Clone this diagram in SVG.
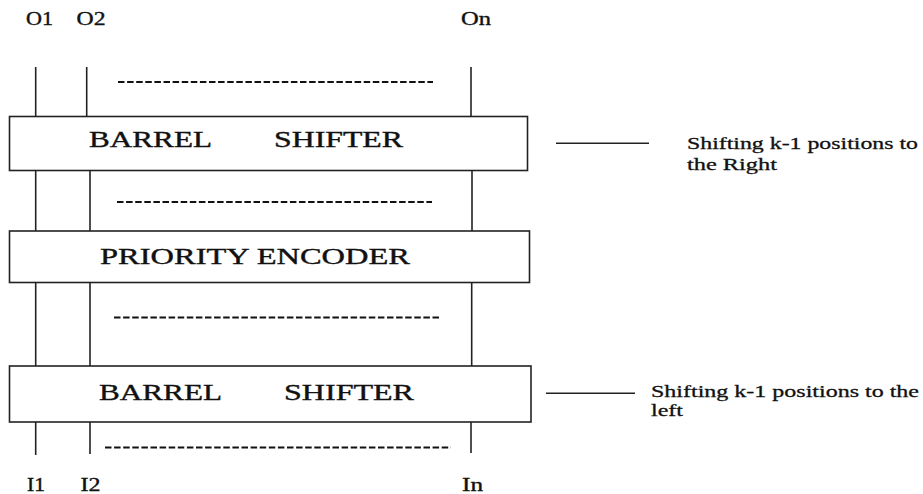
<svg xmlns="http://www.w3.org/2000/svg" width="923" height="494" viewBox="0 0 923 494">
<style>
.box{fill:#fff;stroke:#222;stroke-width:1.6}
.wire{stroke:#222;stroke-width:1.6;fill:none}
.dash{stroke:#111;stroke-width:2;stroke-dasharray:6.5 2.6;fill:none}
.lbl{font-family:"Liberation Serif","Times New Roman",serif;font-size:18px;fill:#111;stroke:#111;stroke-width:0.35}
.big{font-family:"Liberation Serif","Times New Roman",serif;font-size:23.5px;fill:#111;stroke:#111;stroke-width:0.4}
.note{font-family:"Liberation Serif","Times New Roman",serif;font-size:17.5px;fill:#111;stroke:#111;stroke-width:0.3}
</style>
<rect width="923" height="494" fill="#fff"/>
<g id="connectors">
<line class="wire" x1="35.7" y1="67" x2="35.7" y2="117"/>
<line class="wire" x1="86.7" y1="67" x2="86.7" y2="117"/>
<line class="wire" x1="471" y1="67" x2="471" y2="117"/>
<line class="wire" x1="35.7" y1="170" x2="35.7" y2="231"/>
<line class="wire" x1="90" y1="170" x2="90" y2="231"/>
<line class="wire" x1="472" y1="170" x2="472" y2="231"/>
<line class="wire" x1="35.7" y1="282" x2="35.7" y2="366"/>
<line class="wire" x1="90" y1="282" x2="90" y2="366"/>
<line class="wire" x1="471.7" y1="282" x2="471.7" y2="366"/>
<line class="wire" x1="35.7" y1="422" x2="35.7" y2="455"/>
<line class="wire" x1="90" y1="422" x2="90" y2="454"/>
<line class="wire" x1="471" y1="422" x2="471" y2="453"/>
<line class="dash" x1="118" y1="82" x2="433" y2="82"/>
<line class="dash" x1="117" y1="202" x2="432" y2="202"/>
<line class="dash" x1="114" y1="317.5" x2="439" y2="317.5"/>
<line class="dash" x1="105" y1="447.5" x2="451" y2="447.5"/>
<line class="wire" x1="556" y1="143.3" x2="649" y2="143.3"/>
<line class="wire" x1="546" y1="393.3" x2="635" y2="393.3"/>
</g>
<g id="outputs">
<text class="lbl" x="26" y="25" textLength="27" lengthAdjust="spacingAndGlyphs">O1</text>
<text class="lbl" x="76.5" y="25" textLength="29" lengthAdjust="spacingAndGlyphs">O2</text>
<text class="lbl" x="461" y="25" textLength="30" lengthAdjust="spacingAndGlyphs">On</text>
</g>
<g id="barrel-shifter-right">
<rect class="box" x="9.5" y="116.5" width="518" height="54"/>
<text class="big" x="89" y="147" textLength="123" lengthAdjust="spacingAndGlyphs">BARREL</text>
<text class="big" x="274" y="147" textLength="129" lengthAdjust="spacingAndGlyphs">SHIFTER</text>
</g>
<g id="priority-encoder">
<rect class="box" x="9.5" y="231" width="520" height="51.5"/>
<text class="big" x="100" y="264" textLength="310" lengthAdjust="spacingAndGlyphs">PRIORITY ENCODER</text>
</g>
<g id="barrel-shifter-left">
<rect class="box" x="9.5" y="366" width="521.5" height="56"/>
<text class="big" x="99" y="400" textLength="123" lengthAdjust="spacingAndGlyphs">BARREL</text>
<text class="big" x="284" y="400" textLength="130" lengthAdjust="spacingAndGlyphs">SHIFTER</text>
</g>
<g id="inputs">
<text class="lbl" x="27" y="490.5" textLength="18" lengthAdjust="spacingAndGlyphs">I1</text>
<text class="lbl" x="80.5" y="490.5" textLength="20" lengthAdjust="spacingAndGlyphs">I2</text>
<text class="lbl" x="462" y="490.5" textLength="21" lengthAdjust="spacingAndGlyphs">In</text>
</g>
<g id="note-right">
<text class="note" x="687" y="149" textLength="231" lengthAdjust="spacingAndGlyphs">Shifting k-1 positions to</text>
<text class="note" x="687" y="170" textLength="90" lengthAdjust="spacingAndGlyphs">the Right</text>
</g>
<g id="note-left">
<text class="note" x="651" y="396.5" textLength="268" lengthAdjust="spacingAndGlyphs">Shifting k-1 positions to the</text>
<text class="note" x="651" y="416" textLength="32" lengthAdjust="spacingAndGlyphs">left</text>
</g>
</svg>
